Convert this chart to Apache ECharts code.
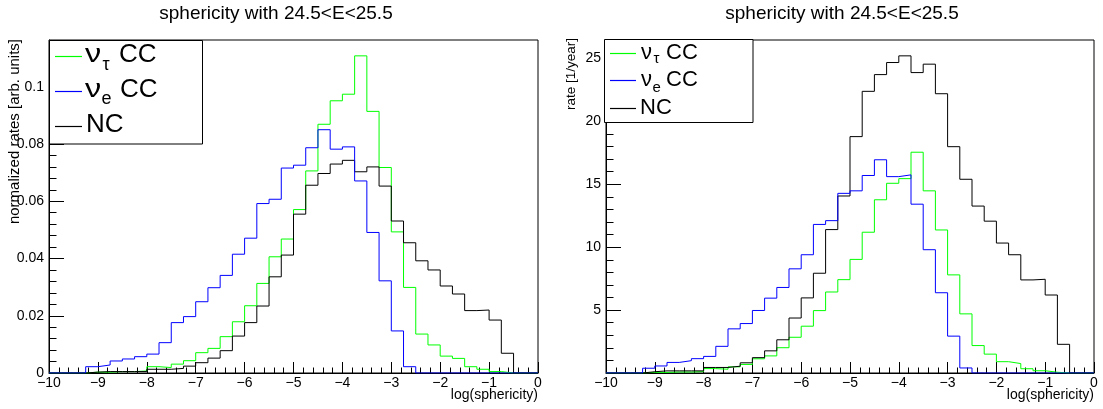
<!DOCTYPE html>
<html>
<head>
<meta charset="utf-8">
<script src="https://cdn.jsdelivr.net/npm/echarts@6/dist/echarts.min.js"></script>
<style>
html,body{margin:0;padding:0;background:#fff;}
#chart{width:1103px;height:409px;}
</style>
</head>
<body>
<div id="chart"></div>
<script>
// ---- DATA (40 bins of log(sphericity), from -10 to 0, width 0.25) ----
const binStart = -10;
const binWidth = 0.25;
const xTicks = [-10, -9, -8, -7, -6, -5, -4, -3, -2, -1, 0];
const leftYTicks = [0, 0.02, 0.04, 0.06, 0.08, 0.1];
const rightYTicks = [5, 10, 15, 20, 25];

// normalized rates [arb. units]
const normTauCC = [0,0,0,0.0003,0.0003,0.0005,0.0005,0.0007,0.0022,0.0019,0.0031,0.0043,0.0071,0.0086,0.0127,0.0179,0.0235,0.0313,0.0406,0.0468,0.0571,0.0706,0.0869,0.0951,0.0974,0.1108,0.0914,0.0718,0.0493,0.0299,0.0136,0.0098,0.0059,0.0051,0.0022,0.0013,0.0005,0,0,0];
const normECC   = [0,0,0,0.0022,0.0028,0.0042,0.0049,0.0057,0.0066,0.0106,0.0176,0.0197,0.0249,0.0298,0.0341,0.0415,0.0471,0.0592,0.0607,0.0716,0.0726,0.0787,0.0850,0.0782,0.0790,0.0671,0.0491,0.0322,0.0147,0.0022,0,0,0,0,0,0,0,0,0,0];
const normNC    = [0,0,0,0.0003,0.0005,0.0005,0.0005,0.0005,0.0013,0.0013,0.0016,0.0024,0.0036,0.0052,0.0078,0.0129,0.0176,0.0234,0.0336,0.0412,0.0555,0.0656,0.0697,0.0730,0.0743,0.0703,0.0720,0.0653,0.0531,0.0455,0.0392,0.0360,0.0304,0.0276,0.0218,0.0220,0.0185,0.0069,0,0];

// rate [1/year]
const rateTauCC = [0,0,0,0.05,0.05,0.08,0.08,0.11,0.35,0.30,0.49,0.68,1.13,1.36,2.01,2.84,3.72,4.96,6.44,7.42,9.03,11.19,13.77,15.08,15.45,17.55,14.48,11.37,7.80,4.70,2.18,1.50,0.90,0.75,0.34,0.18,0.06,0,0,0];
const rateECC   = [0,0,0,0.38,0.56,0.84,0.98,1.14,1.32,2.12,3.51,3.93,4.97,5.95,6.80,8.28,9.40,11.81,12.11,14.28,14.48,15.70,16.95,15.61,15.75,13.42,9.80,6.38,2.93,0.40,0,0,0,0,0,0,0,0,0,0];
const rateNC    = [0,0,0,0.10,0.17,0.17,0.17,0.17,0.44,0.44,0.54,0.81,1.22,1.76,2.64,4.37,5.97,7.93,11.40,14.07,18.79,22.39,23.72,24.68,25.21,23.88,24.55,22.20,17.99,15.40,13.27,12.07,10.33,9.40,7.40,7.45,6.20,2.28,0,0];

const titleText = 'sphericity with 24.5<E<25.5';
const xTitle = 'log(sphericity)';
const leftYTitle = 'normalized rates [arb. units]';
const rightYTitle = 'rate [1/year]';
const seriesNames = ['ντ CC', 'νe CC', 'NC'];
const colTau = '#00ff00', colE = '#0000ff', colNC = '#000000';

// ---- helpers ----
const FONT = '"Liberation Sans", Arial, Helvetica, sans-serif';
function histData(vals) {
  const d = vals.map((v, i) => [binStart + i * binWidth, v]);
  d.push([binStart + vals.length * binWidth, vals[vals.length - 1]]);
  return d;
}
function minus(v) {
  return v < 0 ? '\u2212' + String(Math.abs(v)) : String(v);
}
const leftMax = Math.max(...normTauCC, ...normECC, ...normNC) * 1.05;
const rightMax = Math.max(...rateTauCC, ...rateECC, ...rateNC) * 1.05;

function xAxisCfg(gi) {
  return {
    type: 'value', gridIndex: gi, min: xTicks[0], max: xTicks[xTicks.length - 1], interval: 1,
    axisLine: { show: true, onZero: false, lineStyle: { color: '#000', width: 1 } },
    axisTick: { show: true, inside: true, length: 11, lineStyle: { color: '#000', width: 1 } },
    minorTick: { show: true, splitNumber: 5, length: 5.5, lineStyle: { color: '#000', width: 1 } },
    splitLine: { show: false }, minorSplitLine: { show: false },
    axisLabel: { show: true, margin: 3, color: '#000', fontSize: 14, fontFamily: FONT,
      formatter: v => minus(v) }
  };
}
function yAxisCfg(gi, max, interval, ticks, showMin, fmt) {
  return {
    type: 'value', gridIndex: gi, min: 0, max: max, interval: interval,
    axisLine: { show: true, onZero: false, lineStyle: { color: '#000', width: 1 } },
    axisTick: { show: true, inside: true, length: 15, lineStyle: { color: '#000', width: 1 } },
    minorTick: { show: true, splitNumber: 5, length: 7.5, lineStyle: { color: '#000', width: 1 } },
    splitLine: { show: false }, minorSplitLine: { show: false },
    axisLabel: { show: true, margin: 5, color: '#000', fontSize: 14, fontFamily: FONT,
      showMinLabel: showMin, showMaxLabel: false,
      formatter: v => {
        const hit = ticks.find(t => Math.abs(t - v) < 1e-9);
        return hit === undefined ? '' : fmt(hit);
      } }
  };
}
function series(name, vals, color, xi, yi, z) {
  return {
    name: name, type: 'line', xAxisIndex: xi, yAxisIndex: yi, step: 'end',
    data: histData(vals), showSymbol: false, symbol: 'none', z: z,
    lineStyle: { color: color, width: 1 }, itemStyle: { color: color },
    silent: true, animation: false
  };
}
function txt(x, y, text, size, extra, sx) {
  return {
    type: 'text', x: x, y: y, z: 200, scaleX: sx || 1,
    style: Object.assign({ text: text, fill: '#000', fontSize: size, fontFamily: FONT,
      verticalAlign: 'middle', textAlign: 'left' }, extra || {})
  };
}
function seg(x1, x2, y, color) {
  return { type: 'line', z: 210, shape: { x1: x1, y1: y, x2: x2, y2: y },
    style: { stroke: color, lineWidth: 1.2 } };
}

const chart = echarts.init(document.getElementById('chart'), null, { renderer: 'canvas' });
const option = {
  backgroundColor: '#fff',
  animation: false,
  grid: [
    { left: 49, top: 40, width: 489, height: 333, show: true, borderColor: '#000', borderWidth: 1, backgroundColor: 'transparent' },
    { left: 606, top: 40, width: 488, height: 333, show: true, borderColor: '#000', borderWidth: 1, backgroundColor: 'transparent' }
  ],
  xAxis: [xAxisCfg(0), xAxisCfg(1)],
  yAxis: [
    yAxisCfg(0, leftMax, 0.02, leftYTicks, true, v => (v === 0 ? '0' : String(+v.toFixed(2)))),
    yAxisCfg(1, rightMax, 5, rightYTicks, false, v => String(v))
  ],
  series: [
    series(seriesNames[0], normTauCC, colTau, 0, 0, 3),
    series(seriesNames[2], normNC, colNC, 0, 0, 4),
    series(seriesNames[1], normECC, colE, 0, 0, 5),
    series(seriesNames[0] + ' ', rateTauCC, colTau, 1, 1, 3),
    series(seriesNames[2] + ' ', rateNC, colNC, 1, 1, 4),
    series(seriesNames[1] + ' ', rateECC, colE, 1, 1, 5)
  ],
  graphic: [
    // titles
    txt(276, 14, titleText, 19, { textAlign: 'center' }),
    txt(842, 14, titleText, 19, { textAlign: 'center' }),
    // x titles
    txt(538, 395, xTitle, 14, { textAlign: 'right' }),
    txt(1094, 395, xTitle, 14, { textAlign: 'right' }),
    // y titles (rotated)
    { type: 'text', x: 15, y: 39, rotation: Math.PI / 2, z: 200,
      style: { text: leftYTitle, fill: '#000', fontSize: 15, fontFamily: FONT, textAlign: 'right', verticalAlign: 'middle' } },
    { type: 'text', x: 571, y: 38, rotation: Math.PI / 2, z: 200,
      style: { text: rightYTitle, fill: '#000', fontSize: 13.5, fontFamily: FONT, textAlign: 'right', verticalAlign: 'middle' } },

    // left legend
    { type: 'rect', z: 150, shape: { x: 49.5, y: 40.5, width: 153, height: 103.5 },
      style: { fill: '#fff', stroke: '#000', lineWidth: 1 } },
    seg(55, 82, 56.5, colTau), seg(55, 82, 91.5, colE), seg(55, 82, 126.5, colNC),
    txt(85, 55, 'ν', 26, null, 1.25), txt(102.5, 65.5, 'τ', 18), txt(119, 55, 'CC', 26),
    txt(85, 90, 'ν', 26, null, 1.25), txt(101.5, 99, 'e', 18), txt(120, 90, 'CC', 26),
    txt(86, 124.5, 'NC', 26),

    // right legend
    { type: 'rect', z: 150, shape: { x: 604.5, y: 39.5, width: 148.5, height: 83 },
      style: { fill: '#fff', stroke: '#000', lineWidth: 1 } },
    seg(610, 636, 53.5, colTau), seg(610, 636, 80.5, colE), seg(610, 636, 108.5, colNC),
    txt(641, 53.3, 'ν', 22), txt(653.5, 58.5, 'τ', 15), txt(666, 53.3, 'CC', 22),
    txt(641, 80, 'ν', 22), txt(652.5, 87.5, 'e', 15), txt(666, 80, 'CC', 22),
    txt(640, 108.3, 'NC', 22)
  ]
};
chart.setOption(option);
</script>
</body>
</html>
